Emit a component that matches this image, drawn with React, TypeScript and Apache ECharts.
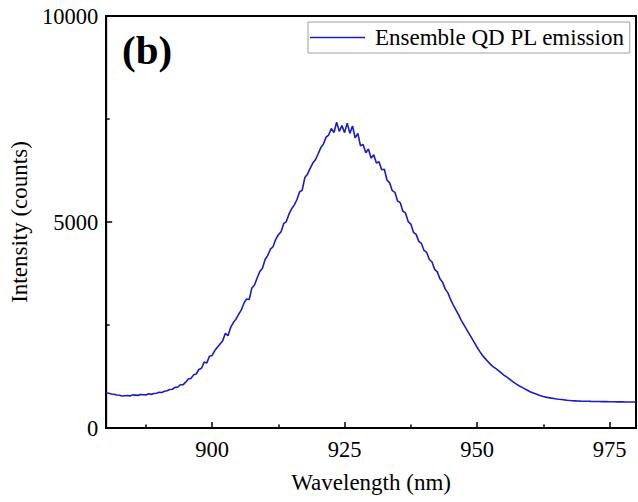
import React, { useEffect, useRef } from "react";
import * as echarts from "echarts";

// Ensemble quantum-dot photoluminescence spectrum, sampled every 0.5 nm.
const wavelengthNm: number[] = [
  880, 880.5, 881, 881.5, 882, 882.5, 883, 883.5, 884, 884.5,
  885, 885.5, 886, 886.5, 887, 887.5, 888, 888.5, 889, 889.5,
  890, 890.5, 891, 891.5, 892, 892.5, 893, 893.5, 894, 894.5,
  895, 895.5, 896, 896.5, 897, 897.5, 898, 898.5, 899, 899.5,
  900, 900.5, 901, 901.5, 902, 902.5, 903, 903.5, 904, 904.5,
  905, 905.5, 906, 906.5, 907, 907.5, 908, 908.5, 909, 909.5,
  910, 910.5, 911, 911.5, 912, 912.5, 913, 913.5, 914, 914.5,
  915, 915.5, 916, 916.5, 917, 917.5, 918, 918.5, 919, 919.5,
  920, 920.5, 921, 921.5, 922, 922.5, 923, 923.5, 924, 924.5,
  925, 925.5, 926, 926.5, 927, 927.5, 928, 928.5, 929, 929.5,
  930, 930.5, 931, 931.5, 932, 932.5, 933, 933.5, 934, 934.5,
  935, 935.5, 936, 936.5, 937, 937.5, 938, 938.5, 939, 939.5,
  940, 940.5, 941, 941.5, 942, 942.5, 943, 943.5, 944, 944.5,
  945, 945.5, 946, 946.5, 947, 947.5, 948, 948.5, 949, 949.5,
  950, 950.5, 951, 951.5, 952, 952.5, 953, 953.5, 954, 954.5,
  955, 955.5, 956, 956.5, 957, 957.5, 958, 958.5, 959, 959.5,
  960, 960.5, 961, 961.5, 962, 962.5, 963, 963.5, 964, 964.5,
  965, 965.5, 966, 966.5, 967, 967.5, 968, 968.5, 969, 969.5,
  970, 970.5, 971, 971.5, 972, 972.5, 973, 973.5, 974, 974.5,
  975, 975.5, 976, 976.5, 977, 977.5, 978, 978.5, 979, 979.5,
  980,
];

const intensityCounts: number[] = [
  850, 842, 826, 818, 802, 795, 776, 784, 790, 779,
  804, 798, 792, 812, 806, 803, 830, 816, 838, 842,
  866, 860, 890, 905, 934, 940, 985, 990, 1050, 1048,
  1112, 1190, 1200, 1290, 1310, 1420, 1450, 1600, 1580, 1740,
  1760, 1880, 1960, 2040, 2120, 2300, 2240, 2440, 2560, 2640,
  2760, 2860, 3030, 3130, 3120, 3400, 3470, 3640, 3800, 3880,
  4090, 4190, 4340, 4400, 4580, 4690, 4760, 4960, 5010, 5190,
  5320, 5410, 5540, 5730, 5770, 6080, 6160, 6300, 6430, 6510,
  6650, 6800, 6890, 7060, 7110, 7270, 7170, 7420, 7200, 7340,
  7170, 7400, 7150, 7330, 7040, 7150, 6850, 6880, 6680, 6770,
  6550, 6630, 6430, 6460, 6270, 6280, 6020, 5950, 5760, 5720,
  5510, 5470, 5260, 5220, 5010, 4950, 4750, 4700, 4530, 4480,
  4310, 4260, 4090, 4030, 3850, 3790, 3620, 3540, 3370, 3280,
  3120, 2990, 2870, 2750, 2620, 2510, 2400, 2290, 2180, 2070,
  1960, 1860, 1765, 1690, 1620, 1550, 1490, 1445, 1400, 1345,
  1290, 1245, 1200, 1150, 1100, 1060, 1020, 985, 950, 915,
  880, 855, 830, 805, 782, 765, 750, 737, 725, 715,
  705, 697, 690, 682, 675, 669, 663, 659, 655, 652,
  650, 649, 648, 646, 645, 644, 642, 641, 640, 639,
  638, 637, 636, 634, 633, 633, 632, 631, 631, 630,
  630,
];

const xMajorTicks: number[] = [900, 925, 950, 975];
const xMinorTicks: number[] = [887.5, 912.5, 937.5, 962.5];
const seriesName = "Ensemble QD PL emission";

const FONT = "'Liberation Serif', 'Times New Roman', serif";
const LINE_COLOR = "#1c1cc4";

export default function App() {
  const ref = useRef<HTMLDivElement>(null);

  useEffect(() => {
    document.body.style.margin = "0";
    if (!ref.current) return;
    const chart = echarts.init(ref.current, undefined, { renderer: "svg" });

    const points = wavelengthNm.map((w, i) => [w, intensityCounts[i]]);

    chart.setOption({
      animation: false,
      backgroundColor: "#ffffff",
      textStyle: { fontFamily: FONT },
      grid: {
        left: 104,
        right: 2,
        top: 16,
        bottom: 74,
        show: true,
        borderColor: "#000",
        borderWidth: 2,
        containLabel: false,
      },
      legend: {
        left: 308,
        top: 22,
        orient: "horizontal",
        data: [{ name: seriesName, icon: "rect" }],
        itemWidth: 55,
        itemHeight: 1.6,
        padding: [4, 5, 4, 2],
        borderColor: "#a0a0a0",
        borderWidth: 1,
        backgroundColor: "#fff",
        textStyle: {
          fontFamily: FONT,
          fontSize: 23,
          color: "#000",
          lineHeight: 23,
          padding: [0, 0, 0, 5],
        },
      },
      xAxis: [
        {
          type: "value",
          min: 880,
          max: 980,
          position: "bottom",
          name: "Wavelength (nm)",
          nameLocation: "middle",
          nameGap: 43,
          nameTextStyle: { fontFamily: FONT, fontSize: 23, color: "#000" },
          axisLine: { show: true, lineStyle: { color: "#000", width: 2 } },
          axisTick: {
            show: true,
            inside: true,
            length: 6,
            customValues: xMajorTicks,
            lineStyle: { color: "#000", width: 1.5 },
          },
          axisLabel: {
            customValues: xMajorTicks,
            margin: 10,
            fontFamily: FONT,
            fontSize: 22.5,
            color: "#000",
          },
          splitLine: { show: false },
        },
        {
          type: "value",
          min: 880,
          max: 980,
          position: "bottom",
          offset: 0,
          axisLine: { show: false },
          axisTick: {
            show: true,
            inside: true,
            length: 3.5,
            customValues: xMinorTicks,
            lineStyle: { color: "#000", width: 1.5 },
          },
          axisLabel: { show: false },
          splitLine: { show: false },
        },
      ],
      yAxis: {
        type: "value",
        min: 0,
        max: 10000,
        interval: 5000,
        name: "Intensity (counts)",
        nameLocation: "middle",
        nameGap: 70,
        nameTextStyle: { fontFamily: FONT, fontSize: 23, color: "#000" },
        axisLine: { show: true, lineStyle: { color: "#000", width: 2 } },
        axisTick: {
          show: true,
          inside: true,
          length: 6,
          lineStyle: { color: "#000", width: 1.5 },
        },
        minorTick: {
          show: true,
          splitNumber: 2,
          length: 3.5,
          lineStyle: { color: "#000", width: 1.5 },
        },
        axisLabel: {
          margin: 8,
          fontFamily: FONT,
          fontSize: 22.5,
          color: "#000",
          formatter: (v: number) => String(v),
        },
        splitLine: { show: false },
        minorSplitLine: { show: false },
      },
      graphic: [
        {
          type: "text",
          left: 122,
          top: 29,
          style: {
            text: "(b)",
            font: `bold 41px ${FONT}`,
            fill: "#000",
          },
        },
      ],
      series: [
        {
          name: seriesName,
          type: "line",
          xAxisIndex: 0,
          data: points,
          symbol: "none",
          smooth: false,
          lineStyle: { color: LINE_COLOR, width: 1.6 },
          itemStyle: { color: LINE_COLOR },
        },
      ],
    });

    return () => chart.dispose();
  }, []);

  return <div ref={ref} style={{ width: 638, height: 502 }} />;
}
